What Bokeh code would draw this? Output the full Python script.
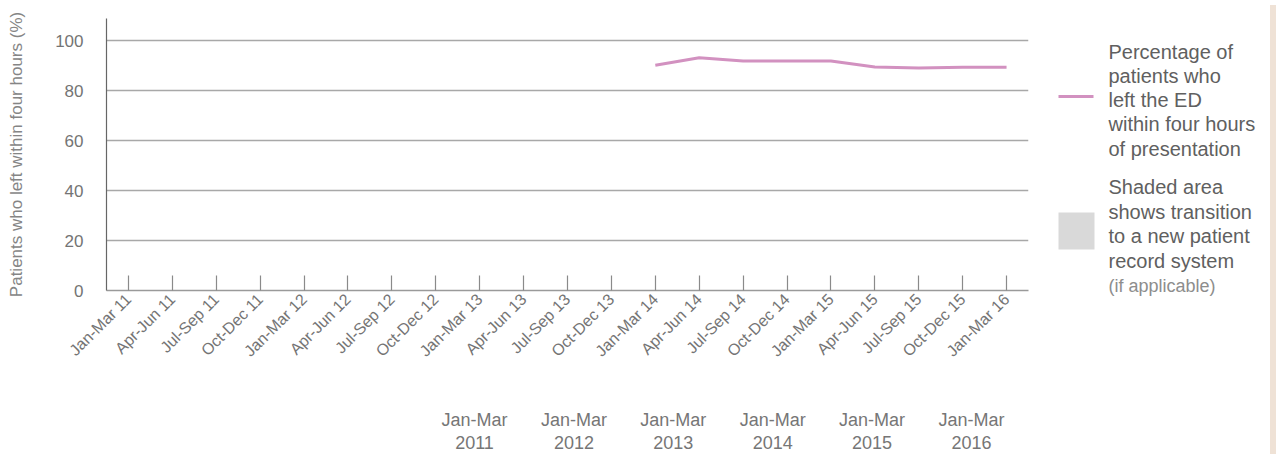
import math
from bokeh.plotting import figure
from bokeh.models import ColumnDataSource, FactorRange, Range1d, FixedTicker, Div
from bokeh.layouts import row, column
from bokeh.core.properties import value
from bokeh.embed import file_html
from bokeh.resources import INLINE

nan = float("nan")

categories = ["Jan-Mar 11", "Apr-Jun 11", "Jul-Sep 11", "Oct-Dec 11",
              "Jan-Mar 12", "Apr-Jun 12", "Jul-Sep 12", "Oct-Dec 12",
              "Jan-Mar 13", "Apr-Jun 13", "Jul-Sep 13", "Oct-Dec 13",
              "Jan-Mar 14", "Apr-Jun 14", "Jul-Sep 14", "Oct-Dec 14",
              "Jan-Mar 15", "Apr-Jun 15", "Jul-Sep 15", "Oct-Dec 15",
              "Jan-Mar 16"]
pct_left_4h = [nan, nan, nan, nan,
               nan, nan, nan, nan,
               nan, nan, nan, nan,
               90.3, 93.3, 92.0, 92.0,
               92.0, 89.6, 89.2, 89.5,
               89.5]
y_ticks = [0, 20, 40, 60, 80, 100]
period_top = ["Jan-Mar"] * 6
period_years = ["2011", "2012", "2013", "2014", "2015", "2016"]
legend_line_text = ["Percentage of", "patients who", "left the ED",
                    "within four hours", "of presentation"]
legend_shade_text = ["Shaded area", "shows transition", "to a new patient",
                     "record system"]
legend_shade_note = "(if applicable)"

FONT = "Liberation Sans"
LINE_COLOR = "#d291c0"
MAIN_W, MAIN_H = 1030, 380
LEG_W = 235
BOTTOM_H = 74
TOTAL_H = MAIN_H + BOTTOM_H
LEFT_B, RIGHT_B, TOP_B, BOT_B = 106, 2, 18, 90

# ---------------- main chart ----------------
src = ColumnDataSource(data=dict(cat=categories, pct=pct_left_4h))

p = figure(width=MAIN_W, height=MAIN_H,
           x_range=FactorRange(factors=categories, range_padding=0),
           y_range=Range1d(0, 109),
           output_backend="svg", toolbar_location=None,
           min_border_left=LEFT_B, min_border_right=RIGHT_B,
           min_border_top=TOP_B, min_border_bottom=BOT_B)
p.outline_line_color = None
p.background_fill_color = "white"
p.border_fill_color = "white"

p.line(x="cat", y="pct", source=src, line_width=3, line_color=LINE_COLOR)

p.xgrid.grid_line_color = None
p.ygrid.ticker = FixedTicker(ticks=y_ticks)
p.ygrid.grid_line_color = "#a8a8a8"
p.ygrid.grid_line_width = 1.5

p.yaxis.ticker = FixedTicker(ticks=y_ticks)
p.yaxis.axis_label = "Patients who left within four hours (%)"
p.yaxis.axis_label_text_font = FONT
p.yaxis.axis_label_text_font_size = "17px"
p.yaxis.axis_label_text_font_style = "normal"
p.yaxis.axis_label_text_color = "#858585"
p.yaxis.axis_label_standoff = 26
p.yaxis.major_label_text_font = FONT
p.yaxis.major_label_text_font_size = "17px"
p.yaxis.major_label_text_color = "#747474"
p.yaxis.major_label_standoff = 17
p.yaxis.major_tick_line_color = None
p.yaxis.minor_tick_line_color = None
p.yaxis.axis_line_color = "#666666"
p.yaxis.axis_line_width = 1.2

p.xaxis.major_label_orientation = math.pi / 4
p.xaxis.major_label_text_font = FONT
p.xaxis.major_label_text_font_size = "16px"
p.xaxis.major_label_text_color = "#747474"
p.xaxis.major_label_standoff = 6
p.xaxis.major_tick_in = 15
p.xaxis.major_tick_out = 0
p.xaxis.major_tick_line_color = "#8a8a8a"
p.xaxis.major_tick_line_width = 1.2
p.xaxis.axis_line_color = "#9a9a9a"
p.xaxis.axis_line_width = 1.5

# ---------------- period labels below the chart (page pixel coords) ----------------
bt = figure(width=MAIN_W, height=BOTTOM_H,
            x_range=Range1d(LEFT_B, MAIN_W - RIGHT_B),
            y_range=Range1d(TOTAL_H, MAIN_H),
            output_backend="svg", toolbar_location=None,
            min_border_left=LEFT_B, min_border_right=RIGHT_B,
            min_border_top=0, min_border_bottom=0)
bt.axis.visible = False
bt.grid.grid_line_color = None
bt.outline_line_color = None
cx = [474 + i * 99.4 for i in range(len(period_years))]
bt.text(x=cx, y=[419] * len(cx), text=period_top,
        text_align="center", text_baseline="middle",
        text_font=value(FONT), text_font_size="18px", text_color="#767676")
bt.text(x=cx, y=[442] * len(cx), text=period_years,
        text_align="center", text_baseline="middle",
        text_font=value(FONT), text_font_size="18px", text_color="#767676")

# ---------------- legend panel (page pixel coordinates) ----------------
lg = figure(width=LEG_W, height=TOTAL_H,
            x_range=Range1d(MAIN_W, MAIN_W + LEG_W),
            y_range=Range1d(TOTAL_H, 0),
            output_backend="svg", toolbar_location=None, min_border=0)
lg.axis.visible = False
lg.grid.grid_line_color = None
lg.outline_line_color = None

lg.segment(x0=[1058], y0=[96], x1=[1093], y1=[96],
           line_width=3, line_color=LINE_COLOR)
lg.quad(left=[1058], right=[1094], top=[212], bottom=[249],
        fill_color="#d9d9d9", line_color=None)
lg.text(x=[1108] * len(legend_line_text),
        y=[51 + i * 24.3 for i in range(len(legend_line_text))],
        text=legend_line_text, text_align="left", text_baseline="middle",
        text_font=value(FONT), text_font_size="20px", text_color="#606060")
lg.text(x=[1108] * len(legend_shade_text),
        y=[186.7 + i * 24.5 for i in range(len(legend_shade_text))],
        text=legend_shade_text, text_align="left", text_baseline="middle",
        text_font=value(FONT), text_font_size="20px", text_color="#606060")
lg.text(x=[1108], y=[285], text=[legend_shade_note],
        text_align="left", text_baseline="middle",
        text_font=value(FONT), text_font_size="18px", text_color="#8d8d8d")

strip = Div(width=11, height=TOTAL_H,
            styles={"background-color": "#efe2d6"})

layout = row(column(p, bt), lg, strip)

open("out.html", "w").write(file_html(layout, INLINE))
